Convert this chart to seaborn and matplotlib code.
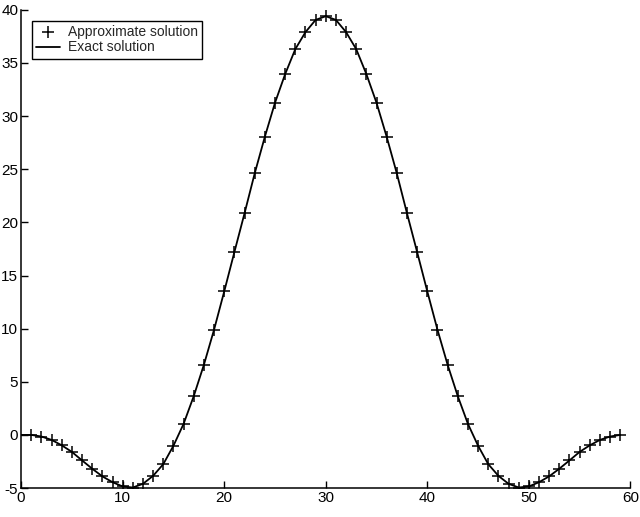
import numpy as np
import pandas as pd
import seaborn as sns
import matplotlib
import matplotlib.pyplot as plt

sns.set_style('ticks')
matplotlib.rcParams['font.family'] = ['Liberation Sans', 'DejaVu Sans']
matplotlib.rcParams['font.size'] = 11
matplotlib.rcParams['axes.unicode_minus'] = False

# values (left half, x = 1..30), right half mirrors it
x_approx = list(range(1, 60))
y_left = [0.0, -0.15, -0.47, -0.98, -1.6, -2.4, -3.18, -3.9, -4.45, -4.85,
          -4.95, -4.6, -3.85, -2.75, -1.02, 1.04, 3.65, 6.6, 9.9, 13.5,
          17.2, 20.85, 24.6, 28.05, 31.25, 33.95, 36.3, 37.9, 39.05, 39.4]
y_approx = y_left + y_left[-2::-1]

x_exact = [0] + x_approx
y_exact = [0.0] + y_approx

approx_df = pd.DataFrame({'x': x_approx, 'y': y_approx})
exact_df = pd.DataFrame({'x': x_exact, 'y': y_exact})

fig = plt.figure(figsize=(6.4, 5.17), dpi=100)
ax = fig.add_axes([0.033, 0.056, 0.952, 0.925])

sns.lineplot(data=exact_df, x='x', y='y', color='black', linewidth=1.3,
             ax=ax, label='Exact solution')
sns.scatterplot(data=approx_df, x='x', y='y', marker='+', s=70,
                color='black', linewidth=1.1, ax=ax,
                label='Approximate solution', zorder=3)

ax.set_xlim(0, 60)
ax.set_ylim(-5, 40)
ax.set_xticks(range(0, 61, 10))
ax.set_yticks(range(-5, 41, 5))
ax.set_xlabel('')
ax.set_ylabel('')
ax.tick_params(direction='in', length=5, width=1, colors='black', pad=2)
for side in ['top', 'right']:
    ax.spines[side].set_visible(False)
for side in ['left', 'bottom']:
    ax.spines[side].set_linewidth(1.1)
    ax.spines[side].set_color('black')

h, l = ax.get_legend_handles_labels()
leg = ax.legend(h[::-1], l[::-1], loc='upper left', bbox_to_anchor=(0.018, 0.977),
                borderaxespad=0, fancybox=False, framealpha=1, edgecolor='black',
                borderpad=0.3, handlelength=1.7, handletextpad=0.6,
                labelspacing=0.1, fontsize=10)
leg.get_frame().set_linewidth(1.0)

fig.savefig('out.png', dpi=100)
